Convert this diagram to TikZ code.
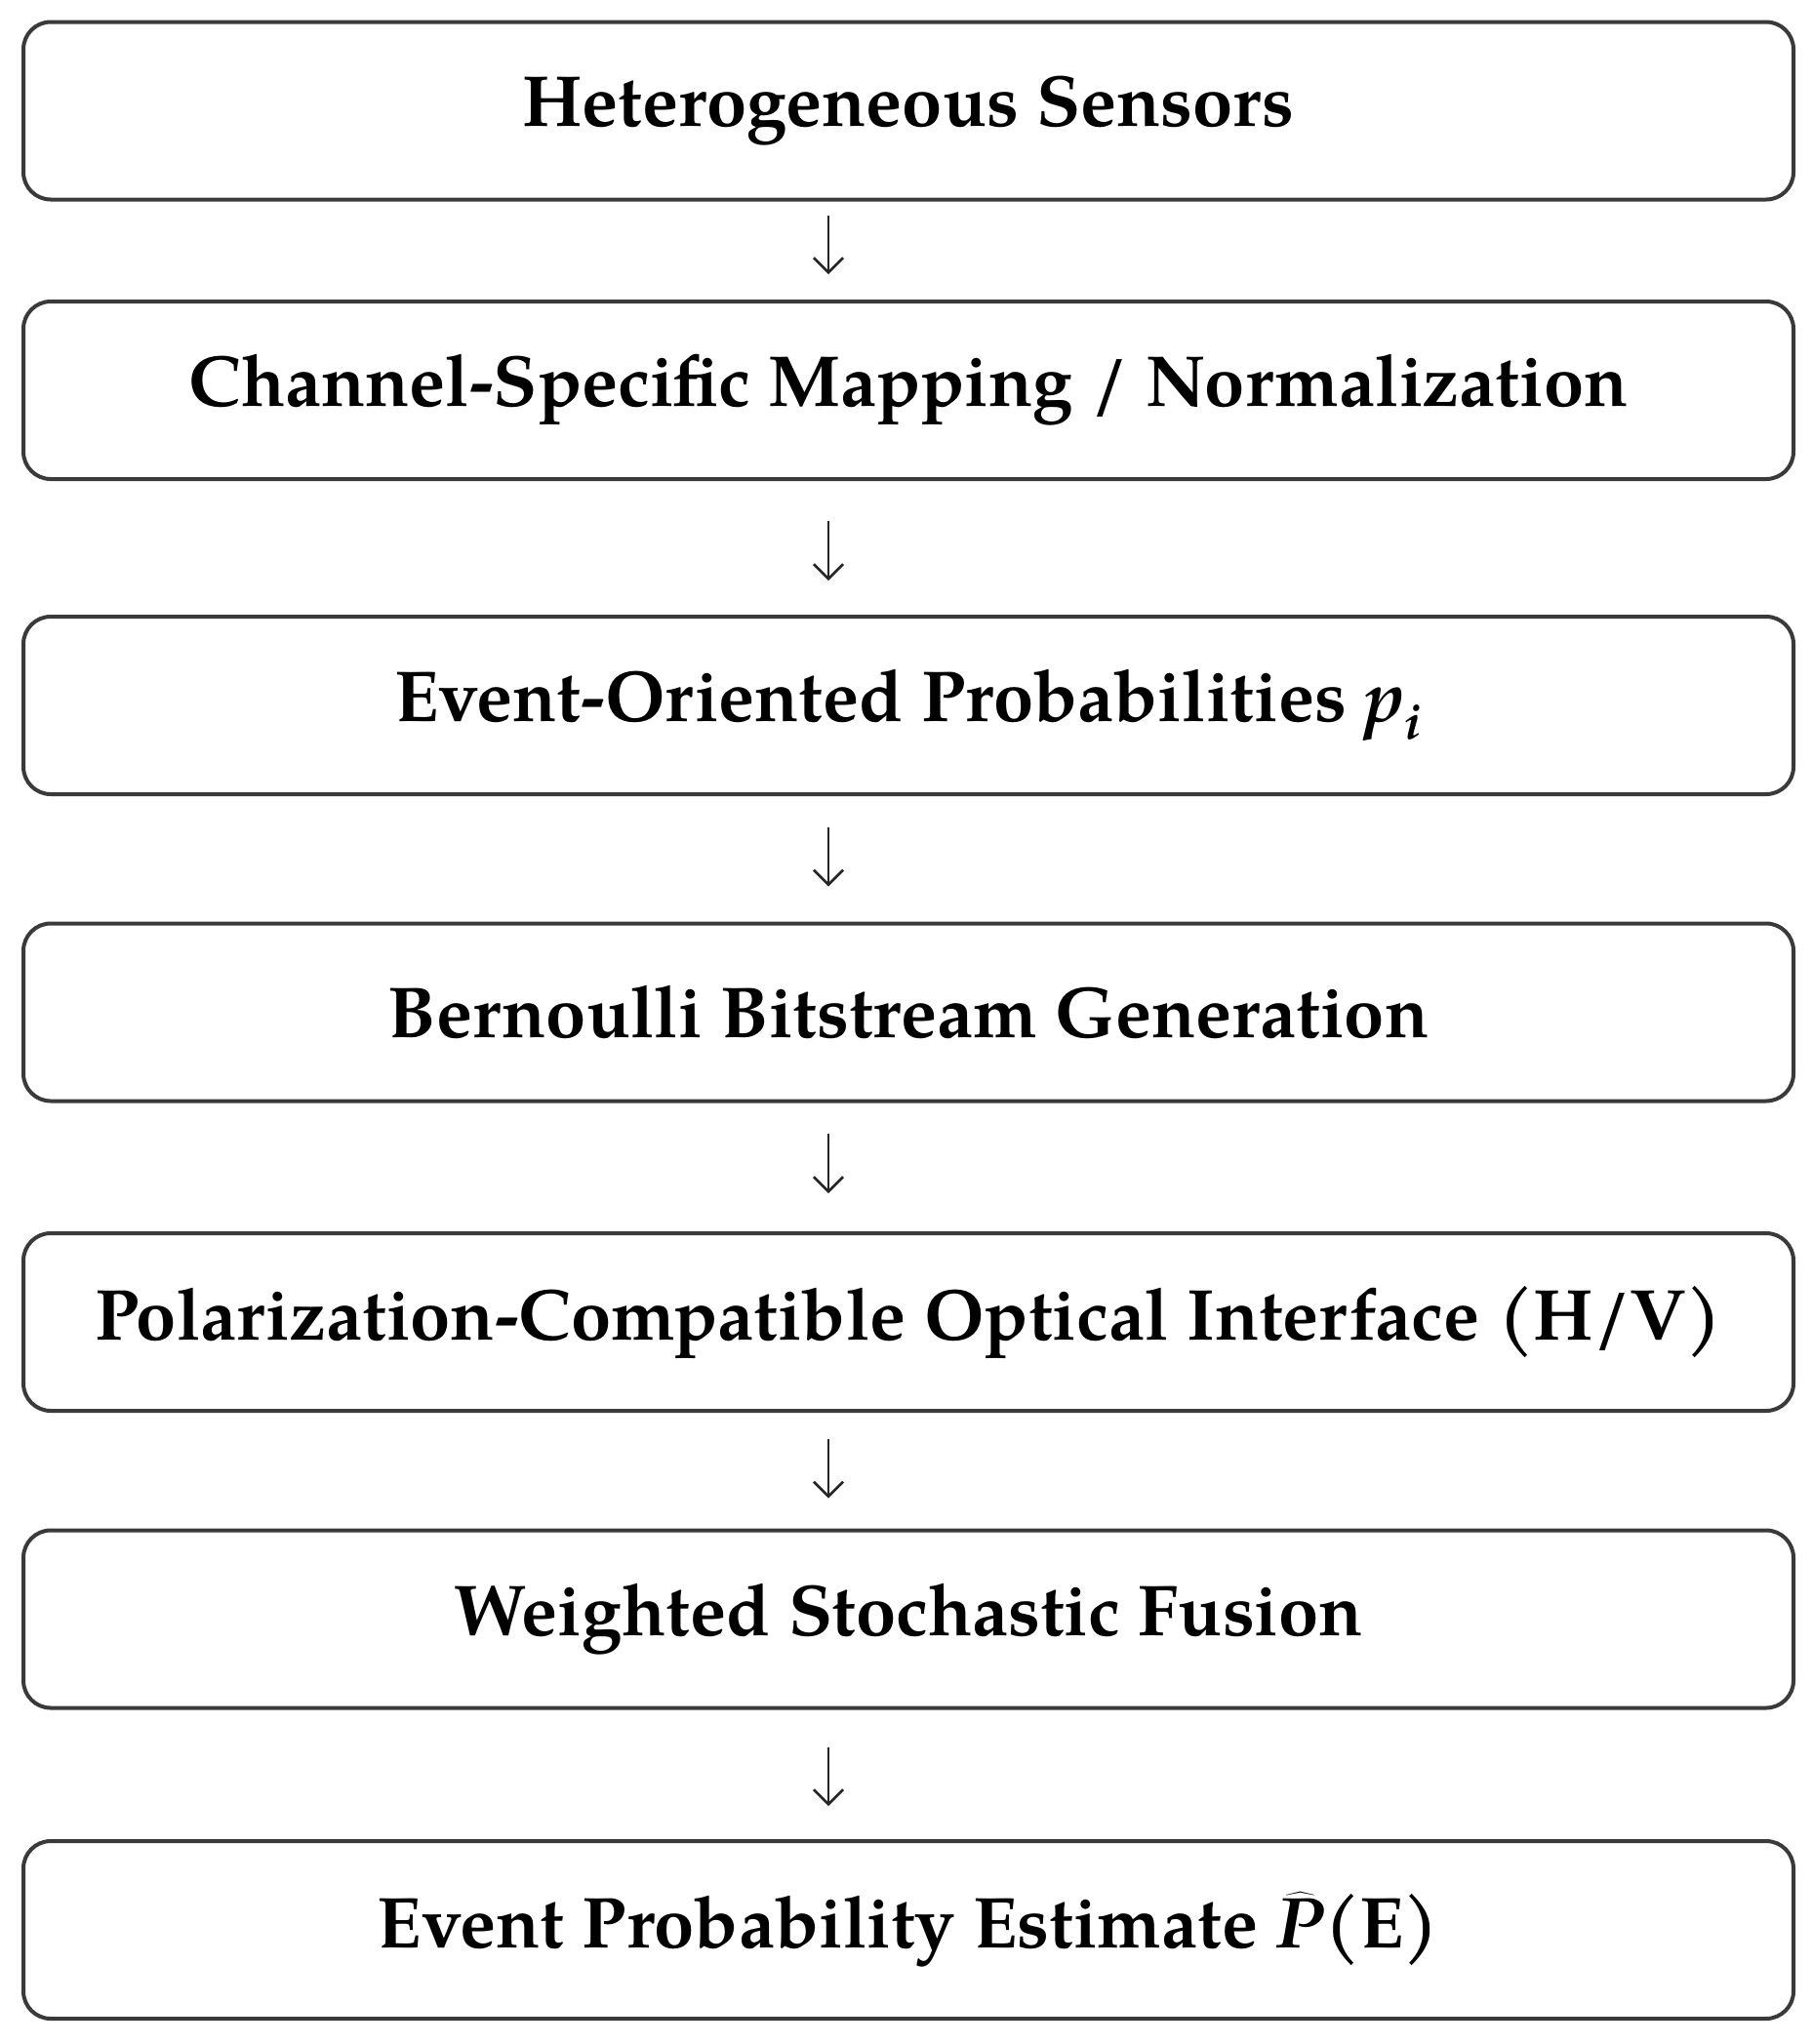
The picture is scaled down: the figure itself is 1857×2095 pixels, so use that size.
\documentclass[tikz,border=0pt]{standalone}
\usepackage{fontspec}
\setmainfont{TeX Gyre Pagella}
\usetikzlibrary{arrows.meta,bending}
\definecolor{boxline}{HTML}{3A3A3A}
\tikzset{
  stage/.style={draw=boxline, line width=2pt, rounded corners=14pt,
    minimum width=907pt, minimum height=91pt, inner sep=0pt,
    font=\fontsize{37}{44}\selectfont\bfseries, text=black, fill=white},
  flowarrow/.style={draw=black!85, line width=1.3pt,
    -{Straight Barb[length=7.5pt,width=15pt,bend,line width=1.3pt]}},
}
\begin{document}
\begin{tikzpicture}[x=0.5pt,y=-0.5pt]
\useasboundingbox[fill=white] (0,0) rectangle (1857,2095);
\node[stage] (b1) at (931,113.5) {Heterogeneous Sensors};
\node[stage] (b2) at (931,400) {Channel-Specific Mapping / Normalization};
\node[stage] (b3) at (931,723) {Event-Oriented Probabilities {\itshape p}\textsubscript{\itshape i}};
\node[stage] (b4) at (931,1037.5) {Bernoulli Bitstream Generation};
\node[stage] (b5) at (931,1355) {Polarization-Compatible Optical Interface (H/V)};
\node[stage] (b6) at (931,1659.5) {Weighted Stochastic Fusion};
\node[stage] (b7) at (931,1978) {Event Probability Estimate $\widehat{\mbox{\bfseries\itshape P}}$(E)};
\draw[flowarrow, shorten <=7pt, shorten >=13pt] ([xshift=-41pt]b1.south) -- ([xshift=-41pt]b2.north);
\draw[flowarrow, shorten <=20.5pt, shorten >=17.5pt] ([xshift=-41pt]b2.south) -- ([xshift=-41pt]b3.north);
\draw[flowarrow, shorten <=16pt, shorten >=18pt] ([xshift=-41pt]b3.south) -- ([xshift=-41pt]b4.north);
\draw[flowarrow, shorten <=15.5pt, shorten >=19.5pt] ([xshift=-41pt]b4.south) -- ([xshift=-41pt]b5.north);
\draw[flowarrow, shorten <=13.5pt, shorten >=15.5pt] ([xshift=-41pt]b5.south) -- ([xshift=-41pt]b6.north);
\draw[flowarrow, shorten <=19pt, shorten >=17pt] ([xshift=-41pt]b6.south) -- ([xshift=-41pt]b7.north);
\end{tikzpicture}
\end{document}
